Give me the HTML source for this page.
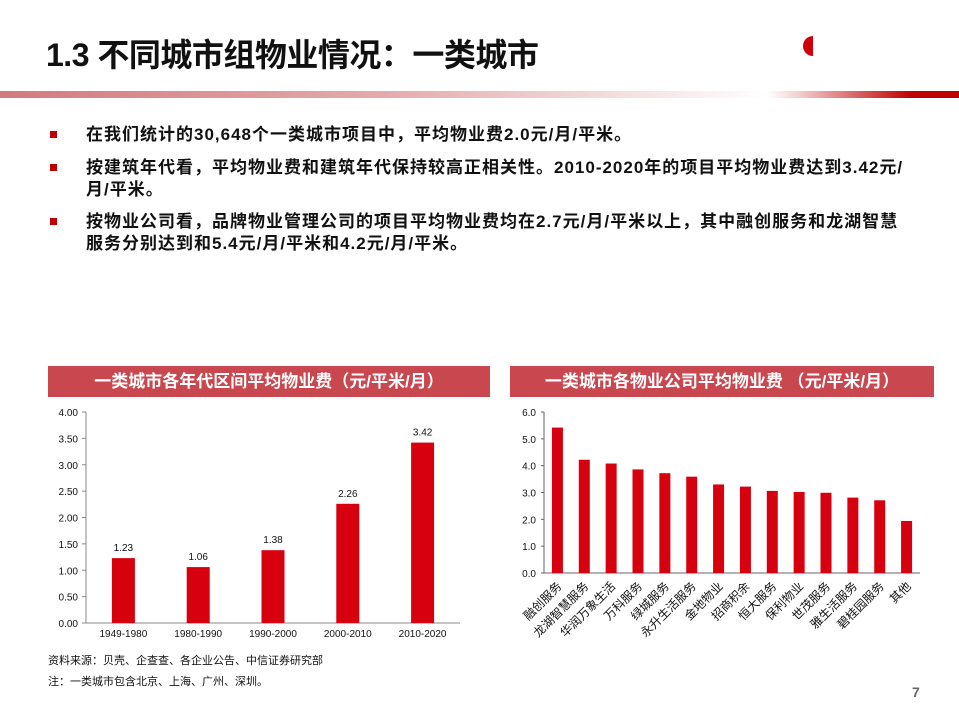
<!DOCTYPE html>
<html><head><meta charset="utf-8"><style>
body{margin:0;width:959px;height:719px;background:#fff;position:relative;overflow:hidden;font-family:"Liberation Sans","Noto Sans CJK SC",sans-serif}
.abs{position:absolute}
.title{left:46px;top:30px;font-size:32px;font-weight:bold;color:#111;letter-spacing:-0.5px}
.bar{left:0;top:91px;width:959px;height:7px;background:linear-gradient(to right,#d27a7c,#e4aaab 40%,#fff 80%,#f3d3d3 83%,#c00000 95%)}
.bul{font-size:17px;font-weight:bold;color:#111;line-height:22px;letter-spacing:1px}
.sq{width:7px;height:7px;background:#c00000}
.ban{height:31px;background:#c9474f;color:#fff;font-weight:bold;font-size:17px;line-height:31px;text-align:center}
.note{font-size:11px;color:#111}
</style></head><body>
<div class="abs title">1.3 不同城市组物业情况：一类城市</div>
<div class="abs" style="left:803px;top:36px;width:10px;height:20px;border-radius:10px 0 0 10px;background:#d0000a"></div>
<div class="abs bar"></div>
<div class="abs sq" style="left:50px;top:131px"></div>
<div class="abs bul" style="left:86px;top:124px">在我们统计的30,648个一类城市项目中，平均物业费2.0元/月/平米。</div>
<div class="abs sq" style="left:50px;top:164px"></div>
<div class="abs bul" style="left:86px;top:157px;width:850px">按建筑年代看，平均物业费和建筑年代保持较高正相关性。2010-2020年的项目平均物业费达到3.42元/<br>月/平米。</div>
<div class="abs sq" style="left:50px;top:218px"></div>
<div class="abs bul" style="left:86px;top:211px;width:850px">按物业公司看，品牌物业管理公司的项目平均物业费均在2.7元/月/平米以上，其中融创服务和龙湖智慧<br>服务分别达到和5.4元/月/平米和4.2元/月/平米。</div>
<div class="abs ban" style="left:48px;top:366px;width:442px">一类城市各年代区间平均物业费（元/平米/月）</div>
<div class="abs ban" style="left:510px;top:366px;width:424px">一类城市各物业公司平均物业费 （元/平米/月）</div>
<svg class="abs" style="left:0;top:0" width="959" height="719" id="svg"></svg>
<div class="abs note" style="left:48px;top:652px">资料来源：贝壳、企查查、各企业公告、中信证券研究部</div>
<div class="abs note" style="left:48px;top:673px">注：一类城市包含北京、上海、广州、深圳。</div>
<div class="abs" style="left:912px;top:684px;font-size:14px;color:#666;font-weight:bold">7</div>
<script>
const leftCats=["1949-1980","1980-1990","1990-2000","2000-2010","2010-2020"];
const leftVals=[1.23,1.06,1.38,2.26,3.42];
const leftTicks=["0.00","0.50","1.00","1.50","2.00","2.50","3.00","3.50","4.00"];
const rightCats=["融创服务","龙湖智慧服务","华润万象生活","万科服务","绿城服务","永升生活服务","金地物业","招商积余","恒大服务","保利物业","世茂服务","雅生活服务","碧桂园服务","其他"];
const rightVals=[5.42,4.22,4.08,3.86,3.72,3.59,3.3,3.22,3.06,3.02,2.99,2.81,2.71,1.94];
const rightTicks=["0.0","1.0","2.0","3.0","4.0","5.0","6.0"];
const svg=document.getElementById('svg');const NS="http://www.w3.org/2000/svg";
function mk(t,a,txt){const e=document.createElementNS(NS,t);for(const k in a)e.setAttribute(k,a[k]);if(txt!=null)e.textContent=txt;svg.appendChild(e);return e;}
const lx0=86,lx1=460,ly0=623,ly1=412,lmax=4;
const ly=v=>ly0-(v/lmax)*(ly0-ly1);
const lstep=(lx1-lx0)/leftCats.length;
const lx=i=>lx0+lstep*(i+0.5);
let e=mk('line',{x1:lx0,y1:ly1,x2:lx0,y2:ly0,stroke:'#888'});

e=mk('line',{x1:lx0,y1:ly0,x2:lx1,y2:ly0,stroke:'#888'});

leftTicks.forEach(t=>{const y=ly(+t);mk('line',{x1:lx0-4,y1:y,x2:lx0,y2:y,stroke:'#888'});
e=mk('text',{x:lx0-8,y:y+4,'text-anchor':'end','font-size':10,fill:'#111'},t);
});
leftCats.forEach((c,i)=>{const x=lx(i),v=leftVals[i];
e=mk('rect',{x:x-11.5,y:ly(v),width:23,height:ly0-ly(v),fill:'#d7000f'});

e=mk('text',{x:x,y:ly(v)-7,'text-anchor':'middle','font-size':10,fill:'#111'},v.toFixed(2));

e=mk('text',{x:x,y:ly0+14,'text-anchor':'middle','font-size':10,fill:'#111'},c);
});
const rx0=544,rx1=920,ry0=573,ry1=412,rmax=6;
const ry=v=>ry0-(v/rmax)*(ry0-ry1);
const rstep=(rx1-rx0)/rightCats.length;
const rx=i=>rx0+rstep*(i+0.5);
e=mk('line',{x1:rx0,y1:ry1,x2:rx0,y2:ry0,stroke:'#666'});

e=mk('line',{x1:rx0,y1:ry0,x2:rx1,y2:ry0,stroke:'#666'});

rightTicks.forEach(t=>{const y=ry(+t);mk('line',{x1:rx0-3,y1:y,x2:rx0,y2:y,stroke:'#666'});
e=mk('text',{x:rx0-8,y:y+4,'text-anchor':'end','font-size':10,fill:'#111'},t);
});
rightCats.forEach((c,i)=>{const x=rx(i),v=rightVals[i];
e=mk('rect',{x:x-5.5,y:ry(v),width:11,height:ry0-ry(v),fill:'#d7000f'});

e=mk('text',{x:x+5,y:ry0+14,'text-anchor':'end','font-size':12,fill:'#111',transform:`rotate(-45 ${x+5} ${ry0+14})`},c);
});
</script>
</body></html>
